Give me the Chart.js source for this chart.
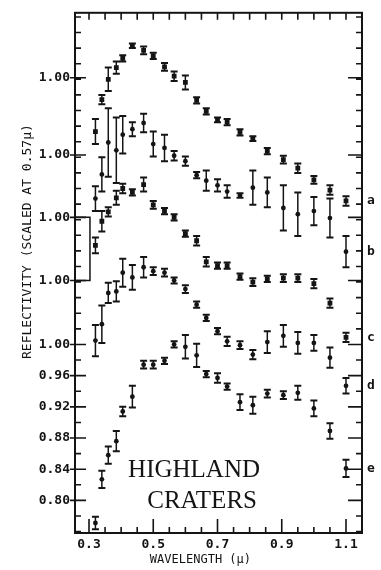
<!DOCTYPE html>
<html>
<head>
<meta charset="utf-8">
<script src="https://cdn.jsdelivr.net/npm/chart.js@4.4.1/dist/chart.umd.min.js"></script>
<style>
  html, body { margin: 0; padding: 0; background: #fff; }
</style>
</head>
<body>
<canvas id="craterChart" width="381" height="570"></canvas>
<script>
// filter wavelengths (microns), shared by all five spectra
const wavelengths = [0.32, 0.34, 0.36, 0.385, 0.405, 0.435, 0.47, 0.50, 0.535, 0.565, 0.60, 0.635,
                     0.665, 0.70, 0.73, 0.77, 0.81, 0.855, 0.905, 0.95, 1.00, 1.05, 1.10];

// reflectivity scaled to 1.00 at 0.57 micron, and +/- errors
const reflA = [0.931, 0.972, 0.998, 1.013, 1.025, 1.041, 1.035, 1.028, 1.014, 1.002, 0.994, 0.971,
               0.957, 0.946, 0.943, 0.930, 0.922, 0.906, 0.895, 0.884, 0.869, 0.856, 0.842];
const errA  = [0.016, 0.006, 0.015, 0.008, 0.004, 0.003, 0.005, 0.004, 0.005, 0.006, 0.009, 0.004,
               0.004, 0.003, 0.004, 0.004, 0.003, 0.004, 0.005, 0.006, 0.005, 0.006, 0.006];
const reflB = [0.944, 0.975, 1.016, 1.006, 1.026, 1.033, 1.041, 1.014, 1.009, 0.999, 0.992, 0.974,
               0.967, 0.961, 0.953, 0.948, 0.958, 0.952, 0.932, 0.924, 0.928, 0.919, 0.876];
const errB  = [0.016, 0.022, 0.044, 0.042, 0.024, 0.009, 0.012, 0.016, 0.017, 0.006, 0.006, 0.004,
               0.013, 0.008, 0.008, 0.003, 0.022, 0.019, 0.029, 0.028, 0.018, 0.025, 0.020];
const reflC = [0.964, 0.995, 1.007, 1.025, 1.037, 1.032, 1.042, 1.016, 1.008, 1.000, 0.979, 0.970,
               0.943, 0.938, 0.938, 0.924, 0.917, 0.921, 0.922, 0.922, 0.915, 0.890, 0.846];
const errC  = [0.010, 0.013, 0.006, 0.009, 0.006, 0.004, 0.009, 0.005, 0.004, 0.004, 0.004, 0.006,
               0.006, 0.004, 0.004, 0.004, 0.005, 0.004, 0.005, 0.005, 0.006, 0.006, 0.006];
const reflD = [0.923, 0.944, 0.984, 0.986, 1.010, 1.004, 1.017, 1.012, 1.010, 1.000, 0.989, 0.969,
               0.952, 0.935, 0.922, 0.917, 0.905, 0.921, 0.929, 0.920, 0.920, 0.901, 0.865];
const errD  = [0.020, 0.024, 0.013, 0.013, 0.018, 0.016, 0.013, 0.005, 0.005, 0.004, 0.005, 0.004,
               0.004, 0.004, 0.006, 0.005, 0.006, 0.014, 0.014, 0.014, 0.010, 0.013, 0.010];
const reflE = [0.771, 0.827, 0.858, 0.876, 0.914, 0.933, 0.974, 0.974, 0.979, 1.000, 0.997, 0.986,
               0.962, 0.957, 0.946, 0.926, 0.922, 0.937, 0.935, 0.938, 0.918, 0.889, 0.841];
const errE  = [0.008, 0.011, 0.011, 0.013, 0.006, 0.014, 0.005, 0.005, 0.004, 0.004, 0.015, 0.015,
               0.004, 0.006, 0.004, 0.010, 0.011, 0.005, 0.005, 0.009, 0.010, 0.010, 0.011];

// vertical shift of each spectrum on the plot
const curveOffsets = [0.342, 0.243, 0.163, 0.082, 0];
const curveNames = ['a', 'b', 'c', 'd', 'e'];

const xTickValues = [0.3, 0.5, 0.7, 0.9, 1.1];
const yTickValues = [0.80, 0.84, 0.88, 0.92, 0.96, 1.00, 1.082, 1.163, 1.243, 1.342];
const yTickLabels = ['0.80', '0.84', '0.88', '0.92', '0.96', '1.00', '1.00', '1.00', '1.00', '1.00'];
const labelLines = ['HIGHLAND', 'CRATERS'];

const series = [reflA, reflB, reflC, reflD, reflE];
const errors = [errA, errB, errC, errD, errE];
const markers = ['rect', 'circle', 'rect', 'circle', 'circle'];

const INK = '#141414';
const MONO = "'DejaVu Sans Mono', monospace";
const X_MIN = 0.2564, X_MAX = 1.1498;
const Y_MIN = 0.7582, Y_MAX = 1.4253;

const datasets = series.map((vals, i) => ({
    label: curveNames[i],
    data: wavelengths.map((w, j) => ({ x: w, y: vals[j] + curveOffsets[i] })),
    errors: errors[i],
    pointStyle: markers[i],
    pointRadius: markers[i] === 'rect' ? 3.4 : 2.4,
    backgroundColor: INK,
    borderColor: INK,
    borderWidth: 0,
    showLine: false
}));

// scale bracket between the c and d reference levels
const bracketX = [X_MIN, 0.303];
datasets.push({
    label: 'bracket',
    data: [
        { x: bracketX[0], y: 1 + curveOffsets[2] },
        { x: bracketX[1], y: 1 + curveOffsets[2] },
        { x: bracketX[1], y: 1 + curveOffsets[3] },
        { x: bracketX[0], y: 1 + curveOffsets[3] }
    ],
    showLine: true,
    borderColor: INK,
    borderWidth: 1.5,
    pointRadius: 0
});

const errorBars = {
    id: 'errorBars',
    beforeDatasetsDraw(chart) {
        const { ctx, scales: { x, y } } = chart;
        ctx.save();
        ctx.strokeStyle = INK;
        chart.data.datasets.forEach(ds => {
            if (!ds.errors) return;
            ds.data.forEach((p, j) => {
                const e = ds.errors[j];
                const px = x.getPixelForValue(p.x);
                const top = y.getPixelForValue(p.y + e);
                const bot = y.getPixelForValue(p.y - e);
                ctx.lineWidth = 1.5;
                ctx.beginPath();
                ctx.moveTo(px, top); ctx.lineTo(px, bot);
                ctx.stroke();
                ctx.lineWidth = 2;
                ctx.beginPath();
                ctx.moveTo(px - 3.5, top); ctx.lineTo(px + 3.5, top);
                ctx.moveTo(px - 3.5, bot); ctx.lineTo(px + 3.5, bot);
                ctx.stroke();
            });
        });
        ctx.restore();
    }
};

// box frame with inward tick marks on all four sides
const frameTicks = {
    id: 'frameTicks',
    beforeDatasetsDraw(chart) {
        const { ctx, chartArea: a, scales: { x, y } } = chart;
        ctx.save();
        ctx.strokeStyle = INK;
        ctx.lineWidth = 2;
        ctx.strokeRect(a.left, a.top, a.right - a.left, a.bottom - a.top);
        ctx.lineWidth = 1.6;
        ctx.beginPath();
        for (let k = 0; ; k++) {
            const v = 0.76 + 0.02 * k;
            if (v > Y_MAX) break;
            const py = y.getPixelForValue(v);
            ctx.moveTo(a.left, py); ctx.lineTo(a.left + 6, py);
            ctx.moveTo(a.right, py); ctx.lineTo(a.right - 6, py);
        }
        yTickValues.forEach(v => {
            const py = y.getPixelForValue(v);
            ctx.moveTo(a.left - 5, py); ctx.lineTo(a.left + 11, py);
            ctx.moveTo(a.right, py); ctx.lineTo(a.right - 14, py);
        });
        for (let k = 0; ; k++) {
            const v = 0.3 + 0.05 * k;
            if (v > X_MAX) break;
            const px = x.getPixelForValue(v);
            const major = k % 4 === 0;
            ctx.moveTo(px, a.bottom); ctx.lineTo(px, a.bottom - (major ? 14 : 6));
            ctx.moveTo(px, a.top); ctx.lineTo(px, a.top + 7);
        }
        ctx.stroke();
        ctx.restore();
    }
};

const craterLabel = {
    id: 'craterLabel',
    afterDatasetsDraw(chart) {
        const { ctx, scales: { x, y } } = chart;
        ctx.save();
        ctx.fillStyle = INK;
        ctx.font = "25px 'Liberation Serif', serif";
        ctx.textAlign = 'center';
        ctx.fillText(labelLines[0], x.getPixelForValue(0.627), y.getPixelForValue(0.830));
        ctx.fillText(labelLines[1], x.getPixelForValue(0.652), y.getPixelForValue(0.790));
        ctx.restore();
    }
};

new Chart(document.getElementById('craterChart'), {
    type: 'scatter',
    data: { datasets },
    options: {
        responsive: false,
        animation: false,
        devicePixelRatio: 1,
        layout: { padding: { top: 6, left: 0, right: 0, bottom: 0 } },
        plugins: {
            legend: { display: false },
            tooltip: { enabled: false }
        },
        scales: {
            x: {
                type: 'linear',
                position: 'bottom',
                min: X_MIN, max: X_MAX,
                grid: { display: false, drawTicks: false },
                border: { display: false },
                afterBuildTicks: (scale) => { scale.ticks = xTickValues.map(v => ({ value: v })); },
                afterFit: (scale) => { scale.height = 37; },
                ticks: {
                    autoSkip: false, maxRotation: 0, padding: 4, color: INK,
                    font: { family: MONO, size: 13, weight: 'bold' },
                    callback: (v) => Number(v).toFixed(1)
                },
                title: {
                    display: true,
                    text: 'WAVELENGTH (µ)     ',
                    color: INK,
                    font: { family: MONO, size: 12 },
                    padding: { top: 0, bottom: 3 }
                }
            },
            y: {
                type: 'linear',
                position: 'left',
                min: Y_MIN, max: Y_MAX,
                grid: { display: false, drawTicks: false },
                border: { display: false },
                afterBuildTicks: (scale) => { scale.ticks = yTickValues.map(v => ({ value: v })); },
                afterFit: (scale) => { scale.width = 75; },
                ticks: {
                    autoSkip: false, padding: 5, color: INK,
                    font: { family: MONO, size: 13, weight: 'bold' },
                    callback: (v, i) => yTickLabels[i]
                },
                title: {
                    display: true,
                    text: '        REFLECTIVITY (SCALED AT 0.57µ)',
                    color: INK,
                    font: { family: MONO, size: 13 },
                    padding: { top: 20, bottom: 0 }
                }
            },
            yRight: {
                type: 'linear',
                position: 'right',
                min: Y_MIN, max: Y_MAX,
                grid: { display: false, drawTicks: false },
                border: { display: false },
                afterBuildTicks: (scale) => {
                    scale.ticks = series.map((vals, i) => ({ value: vals[vals.length - 1] + curveOffsets[i] }));
                },
                afterFit: (scale) => { scale.width = 19; },
                ticks: {
                    autoSkip: false, padding: 5, color: INK,
                    font: { family: MONO, size: 13, weight: 'bold' },
                    callback: (v, i) => curveNames[i]
                }
            }
        }
    },
    plugins: [frameTicks, errorBars, craterLabel]
});
</script>
</body>
</html>
